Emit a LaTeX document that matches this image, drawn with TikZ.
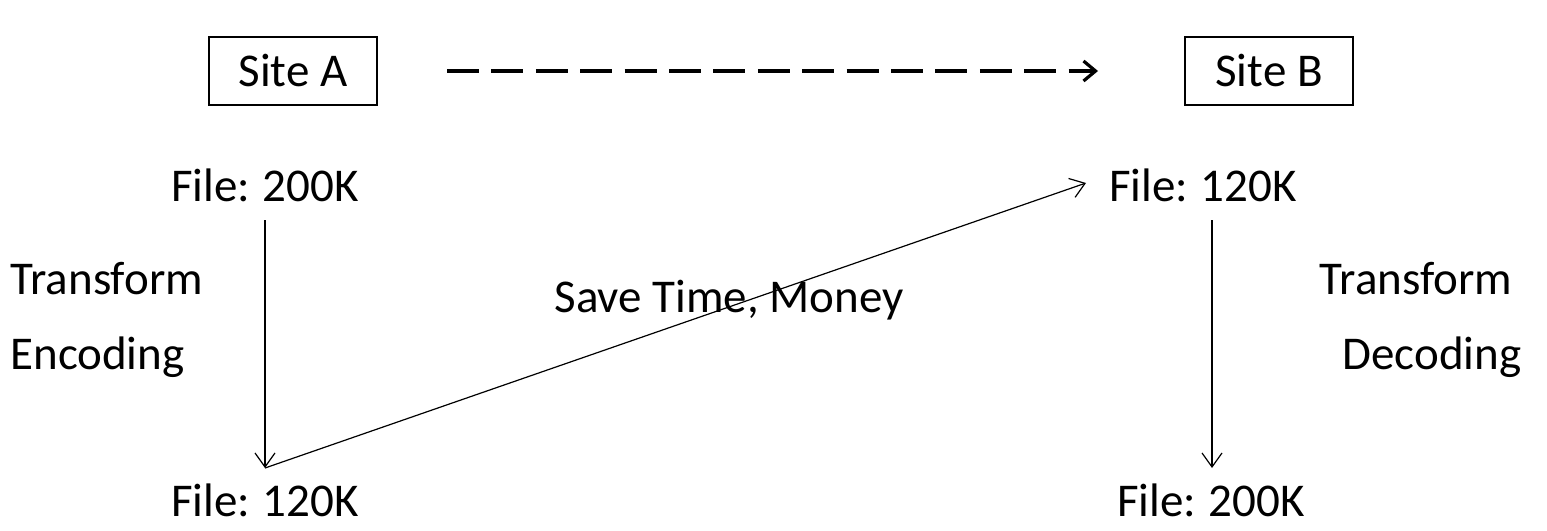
\documentclass[tikz,border=0pt]{standalone}
\usepackage{fontspec}
\setmainfont{Carlito}
\usetikzlibrary{arrows.meta}
\begin{document}
\begin{tikzpicture}[x=0.5pt, y=-0.5pt, every node/.style={font=\fontsize{23.5}{28}\selectfont},
  site/.style={draw,thick,minimum width=84pt,minimum height=34pt,inner sep=0pt},
  lbl/.style={inner sep=0pt},
  flow/.style={-{Straight Barb[length=7pt,width=10pt]},line width=0.6pt}]
\useasboundingbox (0,0) rectangle (1547,530);
\node[site] (siteA) at (293,71) {Site A};
\node[site] (siteB) at (1269,71) {Site B};
\coordinate (dashS) at (447,71);
\coordinate (dashE) at (1098,71);
\draw[-{Straight Barb[length=6pt,width=10pt]},line width=1.6pt,dash pattern=on 16pt off 6.2pt] (dashS) -- (dashE);
\node[lbl] (srcA) at (265,185) {File:\hspace{-1pt} 200K};
\node[lbl] (encA) at (265,500) {File:\hspace{-1pt} 120K};
\node[lbl] (recvB) at (1203,185) {File:\hspace{-1pt} 120K};
\node[lbl] (decB) at (1211,500) {File:\hspace{-1pt} 200K};
\coordinate (topA) at (265,220);
\coordinate (botA) at (265,468);
\coordinate (topB) at (1212,220);
\coordinate (botB) at (1212,468);
\coordinate (sendE) at (1086,183);
\draw[flow] (topA) -- (botA);
\draw[flow] (topB) -- (botB);
\draw[flow] (botA) -- (sendE);
\node[lbl,anchor=west] (trA) at (10,279) {Transform};
\node[lbl,anchor=west] (codA) at (10,357) {Encoding};
\node[lbl] (trB) at (1416,279) {Transform};
\node[lbl] (codB) at (1432,357) {Decoding};
\node[lbl] (gain) at (729,300) {Save Time, Money};
\end{tikzpicture}
\end{document}
